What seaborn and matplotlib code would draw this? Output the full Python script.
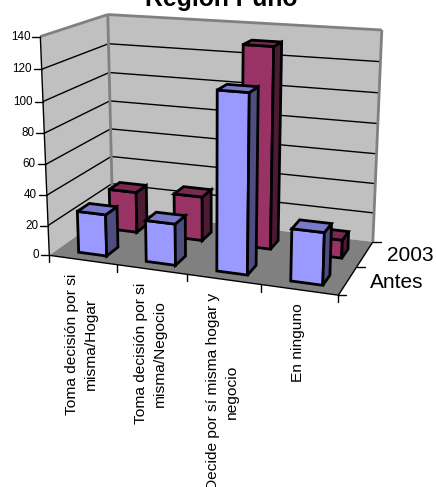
import numpy as np
import pandas as pd
import matplotlib
matplotlib.use("Agg")
import matplotlib.pyplot as plt
import seaborn as sns

TITLE = "Región Puno"
categories = [
    "Toma decisión por si\nmisma/Hogar",
    "Toma decisión por si\nmisma/Negocio",
    "Decide por sí misma hogar y\nnegocio",
    "En ninguno",
]
series_names = ["Antes", "2003"]
antes_values = [27.5, 27, 113, 33]
values_2003 = [28, 30, 132, 12]
z_ticks = [0, 20, 40, 60, 80, 100, 120, 140]

sns.set_theme(style="white")
plt.rcParams["font.family"] = ["Liberation Sans", "DejaVu Sans"]

df = pd.DataFrame({"Antes": antes_values, "2003": values_2003}, index=categories)

# face colours of each series: front, top, side
FACES = {
    "Antes": ("#9999FF", "#7A7ACC", "#4D4D80"),
    "2003": ("#993366", "#7A2952", "#4D1A33"),
}
WALL = "#C0C0C0"
FLOOR = "#808080"
EDGE = "#808080"

# Box corners (category, depth, value) with their place on the canvas
ZMAX = 140.0
NCAT = len(categories)
NDEPTH = len(series_names)
box_world = [
    (0, 0, 0), (0, 0, ZMAX), (0, NDEPTH, 0), (0, NDEPTH, ZMAX),
    (NCAT, NDEPTH, 0), (NCAT, NDEPTH, ZMAX), (NCAT, 0, 0),
]
box_canvas = [
    (49, 256), (41, 36), (113, 210), (107, 15),
    (373, 242), (382, 30), (338, 295),
]


def fit_camera(world, canvas):
    """Least-squares perspective camera for the chart box."""
    rows, rhs = [], []
    for (x, y, z), (u, v) in zip(world, canvas):
        z = z / ZMAX
        rows.append([x, y, z, 1, 0, 0, 0, 0, -u * x, -u * y, -u * z])
        rhs.append(u)
        rows.append([0, 0, 0, 0, x, y, z, 1, -v * x, -v * y, -v * z])
        rhs.append(v)
    p = np.linalg.lstsq(np.array(rows, float), np.array(rhs, float), rcond=None)[0]
    return np.append(p, 1.0).reshape(3, 4)


CAMERA = fit_camera(box_world, box_canvas)


def project(x, y, z):
    h = CAMERA @ np.array([x, y, z / ZMAX, 1.0])
    return h[0] / h[2], h[1] / h[2]


fig = plt.figure(figsize=(4.36, 4.87), dpi=100, facecolor="white")
ax = fig.add_axes([0, 0, 1, 1])
ax.set_xlim(0, 436)
ax.set_ylim(487, 0)
ax.set_axis_off()


def face(points, color, edge="black", lw=2.0, z=1):
    xy = [project(*p) for p in points]
    ax.fill(*zip(*xy), facecolor=color, edgecolor=edge, linewidth=lw,
            joinstyle="miter", zorder=z)


def line(a, b, color="black", lw=1.0, z=2):
    pa, pb = project(*a), project(*b)
    ax.plot([pa[0], pb[0]], [pa[1], pb[1]], color=color, lw=lw, zorder=z,
            solid_capstyle="butt")


# walls and floor
face([(0, 0, 0), (0, NDEPTH, 0), (0, NDEPTH, ZMAX), (0, 0, ZMAX)], WALL, edge="none", lw=0)
face([(0, NDEPTH, 0), (NCAT, NDEPTH, 0), (NCAT, NDEPTH, ZMAX), (0, NDEPTH, ZMAX)], WALL, edge="none", lw=0)
face([(0, 0, 0), (NCAT, 0, 0), (NCAT, NDEPTH, 0), (0, NDEPTH, 0)], FLOOR, edge="none", lw=0)

# gridlines on both walls
for t in z_ticks[1:-1]:
    line((0, 0, t), (0, NDEPTH, t))
    line((0, NDEPTH, t), (NCAT, NDEPTH, t))

# wall borders
line((0, 0, ZMAX), (0, NDEPTH, ZMAX), EDGE, 2.0, 3)
line((0, NDEPTH, ZMAX), (NCAT, NDEPTH, ZMAX), EDGE, 2.0, 3)
line((0, NDEPTH, 0), (0, NDEPTH, ZMAX), EDGE, 2.0, 3)
line((NCAT, NDEPTH, 0), (NCAT, NDEPTH, ZMAX), EDGE, 2.0, 3)

# axis lines
line((0, 0, 0), (0, 0, ZMAX), "black", 1.0, 4)
line((0, 0, 0), (NCAT, 0, 0), "black", 1.0, 4)
line((NCAT, 0, 0), (NCAT, NDEPTH, 0), "black", 1.0, 4)

# value axis ticks and labels
for t in z_ticks:
    px, py = project(0, 0, t)
    ax.plot([px - 8, px], [py, py], color="black", lw=1.0, zorder=4)
    ax.text(px - 10, py, str(t), ha="right", va="center", fontsize=8.4, color="black")

# category ticks and labels
for i in range(NCAT + 1):
    px, py = project(i, 0, 0)
    ax.plot([px, px], [py, py + 7], color="black", lw=1.0, zorder=4)
for i, name in enumerate(categories):
    px, py = project(i + 0.5, 0, 0)
    ax.text(px - 1, py + 13.5, name, rotation=90, ha="center", va="top",
            multialignment="center", linespacing=1.45, fontsize=11.15, color="black")

# depth ticks and labels
for d in range(NDEPTH + 1):
    px, py = project(NCAT, d, 0)
    ax.plot([px, px + 8], [py, py], color="black", lw=1.0, zorder=4)
for d, name in enumerate(series_names):
    px, py = project(NCAT, d + 0.5, 0)
    ax.text(px + 22, py + 2, name, ha="left", va="center", fontsize=15, color="black")

# bars, rear series first
BAR_W = 0.42
BAR_D = 0.36
BAR_X_SHIFT = 0.03
BAR_Y_SHIFT = -0.08
for d in reversed(range(NDEPTH)):
    name = series_names[d]
    front, top, side = FACES[name]
    y0 = d + (1 - BAR_D) / 2 + BAR_Y_SHIFT
    y1 = y0 + BAR_D
    for i, value in enumerate(df[name]):
        x0 = i + (1 - BAR_W) / 2 + BAR_X_SHIFT
        x1 = x0 + BAR_W
        zo = 10 + (NDEPTH - d) * 10 + i
        face([(x0, y0, 0), (x1, y0, 0), (x1, y0, value), (x0, y0, value)], front, z=zo)
        face([(x1, y0, 0), (x1, y1, 0), (x1, y1, value), (x1, y0, value)], side, z=zo)
        face([(x0, y0, value), (x1, y0, value), (x1, y1, value), (x0, y1, value)], top, z=zo)

ax.text(221, 6, TITLE, ha="center", va="baseline", fontsize=17.8, fontweight="bold",
        color="black", clip_on=False)

fig.savefig("out.png", dpi=100, facecolor="white")
